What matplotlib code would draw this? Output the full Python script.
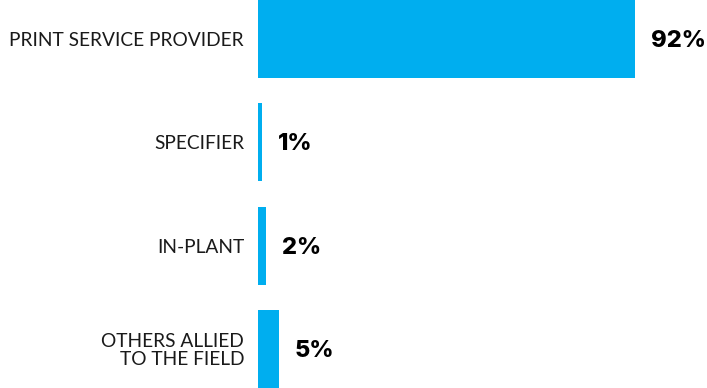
import matplotlib
matplotlib.use("Agg")
import matplotlib.pyplot as plt

# respondent type shares (%)
categories = ["PRINT SERVICE PROVIDER", "SPECIFIER", "IN-PLANT",
              "OTHERS ALLIED\nTO THE FIELD"]
shares = [92, 1, 2, 5]
value_labels = ["92%", "1%", "2%", "5%"]

bar_color = "#00AEEF"

fig = plt.figure(figsize=(7.07, 3.88), dpi=100)
ax = fig.add_axes([258 / 707, 0, 449 / 707, 1])

ypos = list(range(len(categories)))
ax.barh(ypos, shares, height=0.755, color=bar_color, align="center")

ax.set_ylim(len(categories) - 1 + 0.3775, -0.3775)
ax.set_xlim(0, 449 / 4.1)

for y, v, lab in zip(ypos, shares, value_labels):
    ax.annotate(lab, (v, y), xytext=(11.5, -1.5), textcoords="offset points",
                ha="left", va="center", fontsize=17, fontweight="heavy",
                family=["Inter", "DejaVu Sans"], color="#000000")

for y, cat in zip(ypos, categories):
    ax.annotate(cat, (0, y), xytext=(-10, -1), textcoords="offset points",
                ha="right", va="center", fontsize=13.8,
                family=["Lato", "DejaVu Sans"], color="#1a1a1a",
                multialignment="right", linespacing=1.05,
                annotation_clip=False)

ax.axis("off")
fig.savefig("out.png", dpi=100)
